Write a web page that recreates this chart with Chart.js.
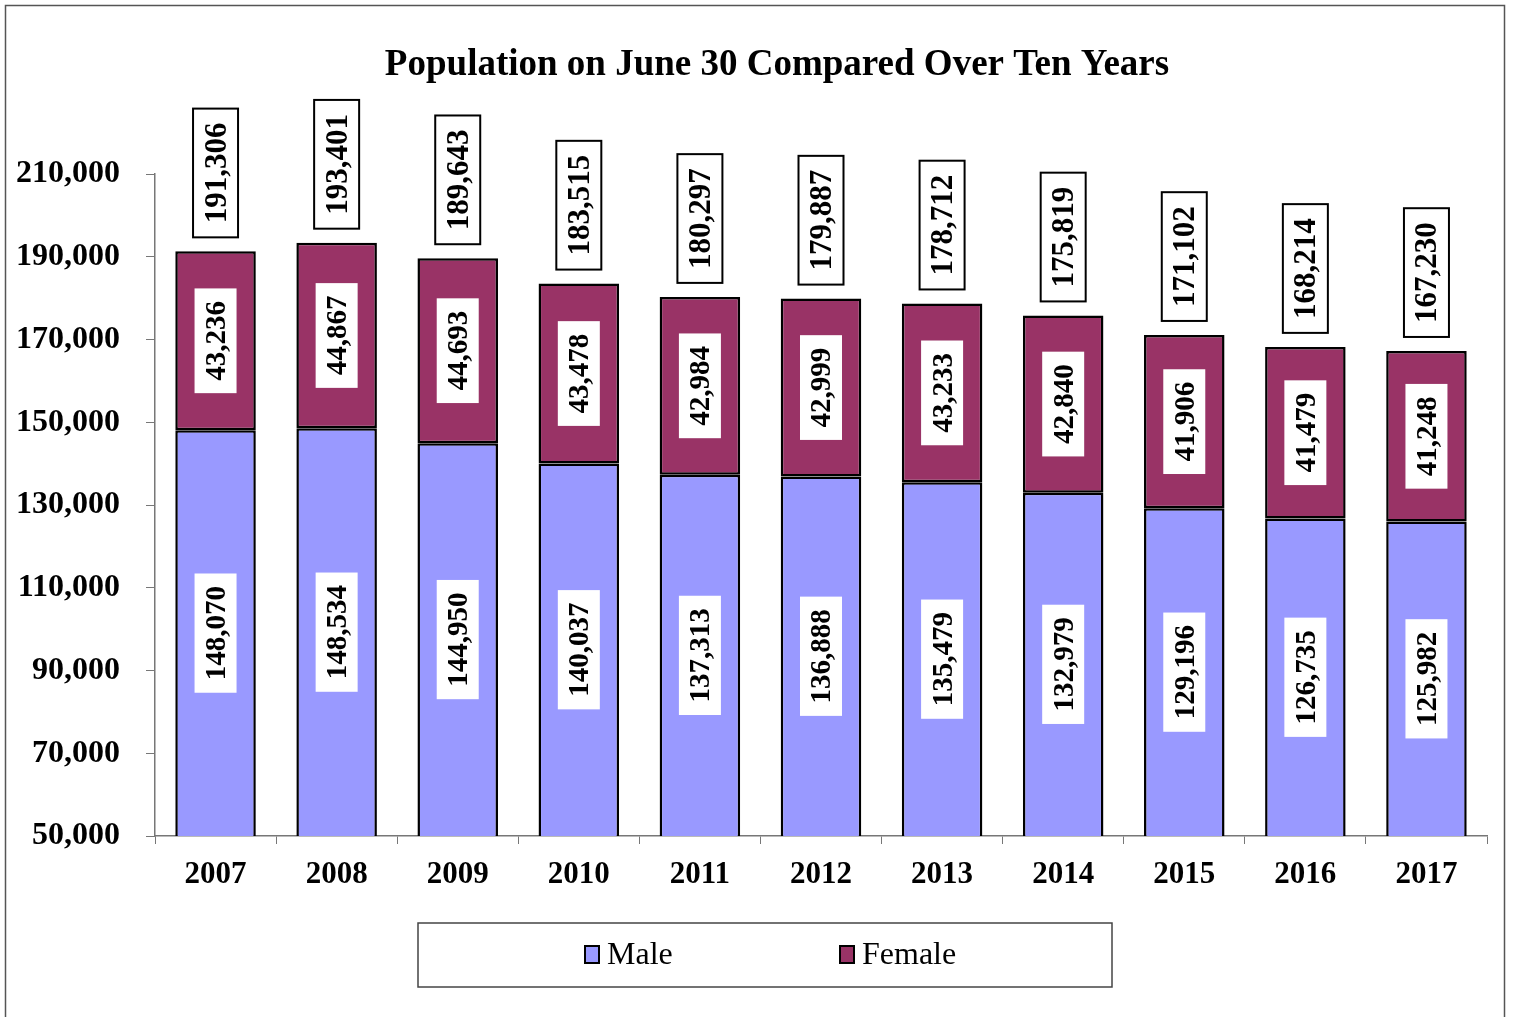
<!DOCTYPE html>
<html>
<head>
<meta charset="utf-8">
<script src="https://cdn.jsdelivr.net/npm/chart.js@4/dist/chart.umd.min.js"></script>
<style>
  html, body { margin: 0; padding: 0; background: #fff; }
  #wrap { width: 1513px; height: 1017px; }
</style>
</head>
<body>
<div id="wrap"><canvas id="popChart" width="1513" height="1017"></canvas></div>
<script>
var years = ['2007', '2008', '2009', '2010', '2011', '2012', '2013', '2014', '2015', '2016', '2017'];
var maleCounts = [148070, 148534, 144950, 140037, 137313, 136888, 135479, 132979, 129196, 126735, 125982];
var femaleCounts = [43236, 44867, 44693, 43478, 42984, 42999, 43233, 42840, 41906, 41479, 41248];
var totalCounts = [191306, 193401, 189643, 183515, 180297, 179887, 178712, 175819, 171102, 168214, 167230];

var MALE_COLOR = '#9999FF';
var FEMALE_COLOR = '#993366';
var SERIF = '"Liberation Serif", "Times New Roman", serif';

function fmt(n) {
    return n.toLocaleString('en-US');
}

// rotated label in a white box, centred at (cx, cy)
function drawRotLabel(ctx, text, cx, cy, font, bordered) {
    ctx.save();
    ctx.font = font;
    var tw = ctx.measureText(text).width;
    var boxLen = tw + (bordered ? 28 : 25);
    var boxW = bordered ? 45 : 42;
    ctx.translate(cx, cy);
    ctx.rotate(-Math.PI / 2);
    ctx.fillStyle = '#fff';
    ctx.fillRect(-boxLen / 2, -boxW / 2, boxLen, boxW);
    if (bordered) {
        ctx.lineWidth = 2;
        ctx.strokeStyle = '#000';
        ctx.strokeRect(-boxLen / 2, -boxW / 2, boxLen, boxW);
    }
    ctx.fillStyle = '#000';
    ctx.textAlign = 'center';
    ctx.textBaseline = 'middle';
    ctx.fillText(text, 0, 2);
    ctx.restore();
    return boxLen;
}

var extrasPlugin = {
    id: 'extras',
    beforeDraw: function (chart) {
        var ctx = chart.ctx;
        ctx.save();
        ctx.fillStyle = '#fff';
        ctx.fillRect(0, 0, chart.width, chart.height);
        // outer frame
        ctx.strokeStyle = '#555';
        ctx.lineWidth = 1.5;
        ctx.strokeRect(5.5, 5.5, 1499, 1020);
        // title
        ctx.fillStyle = '#000';
        ctx.font = 'bold 37px ' + SERIF;
        ctx.textAlign = 'center';
        ctx.textBaseline = 'middle';
        ctx.fillText('Population on June 30 Compared Over Ten Years', 777, 65);
        ctx.restore();
    },
    afterDatasetsDraw: function (chart) {
        var ctx = chart.ctx;
        var area = chart.chartArea;
        var maleMeta = chart.getDatasetMeta(0);
        var femaleMeta = chart.getDatasetMeta(1);
        for (var i = 0; i < years.length; i++) {
            var mb = maleMeta.data[i];
            var fb = femaleMeta.data[i];
            var mBase = Math.min(mb.base, area.bottom);
            drawRotLabel(ctx, fmt(maleCounts[i]), mb.x, (mb.y + mBase) / 2, 'bold 29px ' + SERIF, false);
            drawRotLabel(ctx, fmt(femaleCounts[i]), fb.x, (fb.y + fb.base) / 2, 'bold 29px ' + SERIF, false);
            ctx.save();
            ctx.font = 'bold 31px ' + SERIF;
            var len = ctx.measureText(fmt(totalCounts[i])).width + 28;
            ctx.restore();
            var topY = chart.scales.y.getPixelForValue(totalCounts[i]);
            drawRotLabel(ctx, fmt(totalCounts[i]), fb.x, topY - 14 - len / 2, 'bold 31px ' + SERIF, true);
        }
        // legend box
        ctx.save();
        ctx.strokeStyle = '#444';
        ctx.lineWidth = 1.5;
        ctx.strokeRect(418, 923, 694, 64);
        var items = [
            { label: chart.data.datasets[0].label, color: MALE_COLOR, x: 585 },
            { label: chart.data.datasets[1].label, color: FEMALE_COLOR, x: 840 }
        ];
        items.forEach(function (it) {
            ctx.fillStyle = it.color;
            ctx.fillRect(it.x, 946, 14, 17);
            ctx.strokeStyle = '#000';
            ctx.lineWidth = 2;
            ctx.strokeRect(it.x, 946, 14, 17);
            ctx.fillStyle = '#000';
            ctx.font = '32px ' + SERIF;
            ctx.textAlign = 'left';
            ctx.textBaseline = 'middle';
            ctx.fillText(it.label, it.x + 22, 956);
        });
        ctx.restore();
    }
};

var ctx0 = document.getElementById('popChart').getContext('2d');
window.popChart = new Chart(ctx0, {
    type: 'bar',
    data: {
        labels: years,
        datasets: [{
            label: 'Male',
            data: maleCounts,
            backgroundColor: MALE_COLOR,
            borderColor: '#000',
            borderWidth: 2.5,
            borderSkipped: false
        }, {
            label: 'Female',
            data: femaleCounts,
            backgroundColor: FEMALE_COLOR,
            borderColor: '#000',
            borderWidth: 2.5,
            borderSkipped: false
        }]
    },
    options: {
        responsive: false,
        animation: false,
        devicePixelRatio: 1,
        categoryPercentage: 1.0,
        barPercentage: 0.665,
        layout: {
            padding: { left: 5, right: 26, top: 174, bottom: 121 }
        },
        plugins: {
            legend: { display: false },
            title: { display: false },
            tooltip: { enabled: false }
        },
        scales: {
            x: {
                stacked: true,
                offset: true,
                afterFit: function (scale) { scale.height = 60; },
                grid: {
                    offset: true,
                    drawOnChartArea: false,
                    drawTicks: true,
                    tickLength: 8,
                    color: '#777'
                },
                border: { display: true, color: '#777', width: 1.5 },
                ticks: {
                    color: '#000',
                    padding: 12,
                    font: { family: SERIF, size: 31, weight: 'bold' }
                }
            },
            y: {
                stacked: true,
                min: 50000,
                max: 210000,
                afterFit: function (scale) { scale.width = 150; },
                grid: {
                    drawOnChartArea: false,
                    drawTicks: true,
                    tickLength: 9,
                    color: '#777'
                },
                border: { display: true, color: '#777', width: 1.5 },
                ticks: {
                    stepSize: 20000,
                    color: '#000',
                    padding: 26,
                    font: { family: SERIF, size: 32, weight: 'bold' },
                    callback: function (v) { return fmt(v); }
                }
            }
        }
    },
    plugins: [extrasPlugin]
});
</script>
</body>
</html>
